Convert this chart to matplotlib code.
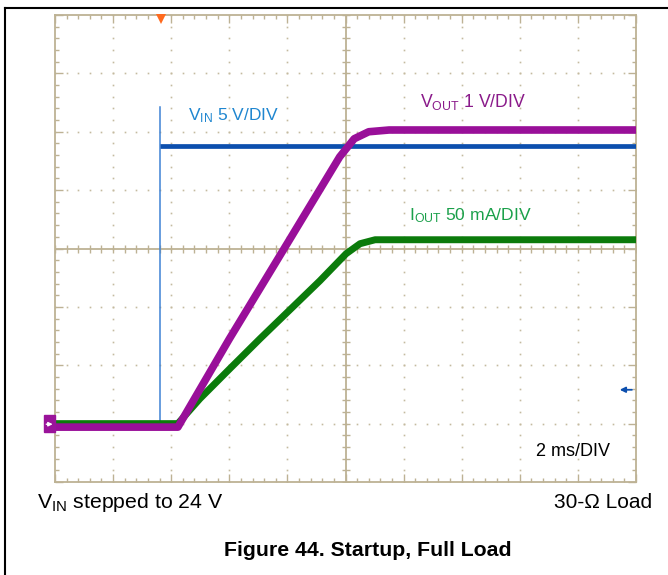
import numpy as np
import matplotlib
matplotlib.use('Agg')
import matplotlib.pyplot as plt
from matplotlib.lines import Line2D
from matplotlib.patches import Rectangle

plt.rcParams['font.family'] = ['Liberation Sans', 'DejaVu Sans']
plt.rcParams['mathtext.fontset'] = 'custom'
plt.rcParams['mathtext.rm'] = 'Liberation Sans'
plt.rcParams['mathtext.it'] = 'Liberation Sans:italic'
plt.rcParams['mathtext.bf'] = 'Liberation Sans:bold'

# scope settings
t_div = 2.0        # ms/DIV
vin_div = 5.0      # V/DIV
vout_div = 1.0     # V/DIV
iout_div = 50.0    # mA/DIV
gnd = -3.0         # ground reference (divisions)
trig_t = 3.65      # trigger time, ms

# traces (time in ms)
vin_t = [0, 3.6, 3.6, 3.62, 20]
vin_v = [0, 0, np.nan, 23.8, 23.8]
vin_edge_t = [3.6, 3.6]
vin_edge_v = [0, 27.1]

vout_t = [0, 4.23, 6.0, 8.0, 9.8, 10.3, 10.8, 11.5, 20]
vout_v = [-0.06, -0.06, 1.45, 3.09, 4.57, 4.88, 5.0, 5.03, 5.03]

iout_t = [0, 4.23, 4.99, 6.02, 7.06, 8.09, 9.12, 10.02, 10.50, 11.02, 20]
iout_i = [0, 0, 21.4, 47.1, 72.8, 97.6, 122.4, 145.5, 154.1, 157.5, 157.5]

tan = '#bdb294'
dot_col = '#c4ba9f'

fig = plt.figure(figsize=(6.68, 5.75), dpi=100)
ax = fig.add_axes([55 / 668, 93 / 575, 581 / 668, 467 / 575])
ax.set_xlim(0, 10)
ax.set_ylim(-4, 4)

# graticule
for s in ax.spines.values():
    s.set_color(tan)
    s.set_linewidth(1.3)
ax.set_xticks(np.arange(0, 11, 1))
ax.set_yticks(np.arange(-4, 5, 1))
ax.set_xticks(np.arange(0, 10.01, 0.2), minor=True)
ax.set_yticks(np.arange(-4, 4.01, 0.2), minor=True)
ax.tick_params(which='both', direction='in', top=True, right=True,
               labelbottom=False, labelleft=False, color=tan, width=1)
ax.tick_params(which='major', length=6)
ax.tick_params(which='minor', length=3)

gx = [i for i in range(1, 10) if i != 5]
gy = [j for j in range(-3, 4) if j != 0]
fine_x = np.arange(0, 10.01, 0.2)
fine_y = np.arange(-4, 4.01, 0.2)
for x in gx:
    ax.plot(np.full_like(fine_y, x), fine_y, ls='none', marker='s', ms=1.2, color=dot_col, mew=0)
for y in gy:
    ax.plot(fine_x, np.full_like(fine_x, y), ls='none', marker='s', ms=1.2, color=dot_col, mew=0)

ax.axhline(0, color=tan, lw=1.3)
ax.axvline(5, color=tan, lw=1.3)
ax.plot(fine_x, np.zeros_like(fine_x), ls='none', marker='|', ms=6, mew=1, color=tan)
ax.plot(np.full_like(fine_y, 5), fine_y, ls='none', marker='_', ms=6, mew=1, color=tan)

# traces
tx = lambda t: np.array(t) / t_div
ax.plot(tx(vin_edge_t), np.array(vin_edge_v) / vin_div + gnd, color='#3f82d4', lw=1.1, zorder=3)
ax.plot(tx(vin_t), np.array(vin_v) / vin_div + gnd, color='#0c4fae', lw=3.4, zorder=4,
        solid_capstyle='butt')
ax.plot(tx(iout_t), np.array(iout_i) / iout_div + gnd, color='#0b7b0b', lw=5.0, zorder=5,
        solid_capstyle='butt', solid_joinstyle='round')
ax.plot(tx(vout_t), np.array(vout_v) / vout_div + gnd, color='#990f99', lw=5.5, zorder=6,
        solid_capstyle='butt', solid_joinstyle='round')

# markers
ax.plot([trig_t / t_div], [3.93], marker='v', ms=7, color='#ff6a1e', mew=0, clip_on=False, zorder=7)
ax.add_patch(Rectangle((-0.19, gnd - 0.15), 0.19, 0.29, color='#9a139a', clip_on=False, zorder=7))
ax.annotate('', xy=(-0.04, gnd - 0.01), xytext=(-0.15, gnd - 0.01),
            arrowprops=dict(arrowstyle='-|>', color='white', lw=1, mutation_scale=6,
                            shrinkA=0, shrinkB=0),
            zorder=8, annotation_clip=False)
ax.annotate('', xy=(9.72, -2.42), xytext=(9.93, -2.42),
            arrowprops=dict(arrowstyle='-|>', color='#0c4fae', lw=1.3, mutation_scale=8,
                            shrinkA=0, shrinkB=0))

# labels
ax.text(2.29, 2.27, r'V$_{\mathrm{IN}}$ 5 V/DIV', color='#1f86d0', fontsize=12.5, va='center')
ax.text(6.28, 2.51, r'V$_{\mathrm{OUT}}$ 1 V/DIV', color='#8a1a8a', fontsize=12.7, va='center')
ax.text(6.09, 0.57, r'I$_{\mathrm{OUT}}$ 50 mA/DIV', color='#1aa04a', fontsize=12.6, va='center')
ax.text(8.28, -3.48, '2 ms/DIV', color='black', fontsize=13, va='center')

fig.text(37 / 668, 1 - 502 / 575, r'V$_{\mathrm{IN}}$ stepped to 24 V', fontsize=15.3, va='center')
fig.text(652 / 668, 1 - 502 / 575, '30-Ω Load', fontsize=15, va='center', ha='right')
fig.text(368 / 668, 1 - 550 / 575, 'Figure 44. Startup, Full Load', fontsize=15.3,
         fontweight='bold', va='center', ha='center')

# frame around the figure
fig.add_artist(Line2D([5 / 668, 1], [1 - 8 / 575] * 2, color='black', lw=1.5))
fig.add_artist(Line2D([5 / 668] * 2, [0, 1 - 8 / 575], color='black', lw=1.5))

fig.savefig('out.png', dpi=100)
